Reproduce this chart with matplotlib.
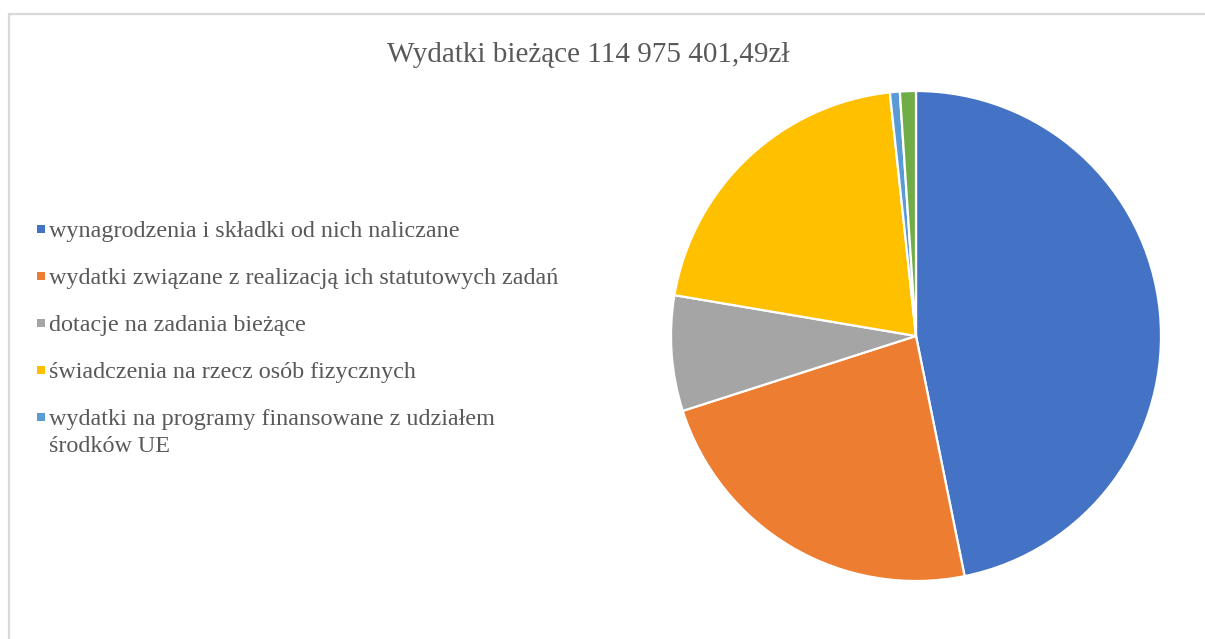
import matplotlib
matplotlib.use("Agg")
import matplotlib.pyplot as plt
from matplotlib.patches import Rectangle

# udział procentowy
categories = [
    "wynagrodzenia i składki od nich naliczane",
    "wydatki związane z realizacją ich statutowych zadań",
    "dotacje na zadania bieżące",
    "świadczenia na rzecz osób fizycznych",
    "wydatki na programy finansowane z udziałem\nśrodków UE",
    "obsługa długu",
]
shares = [46.75, 23.2, 7.6, 20.6, 0.65, 1.05]
colors = ["#4472C4", "#ED7D31", "#A5A5A5", "#FFC000", "#5B9BD5", "#70AD47"]
title = "Wydatki bieżące 114 975 401,49zł"
n_legend = 5  # ostatnia kategoria nie mieści się w legendzie

W, H = 1205, 639
fig = plt.figure(figsize=(W / 100, H / 100), dpi=100)
plt.rcParams["font.family"] = ["Liberation Serif", "DejaVu Serif"]

# ramka obszaru wykresu (widoczna tylko góra i lewa strona)
fig.patches.append(Rectangle((8.5 / W, -0.1), 1.5, (H - 14) / H + 0.1,
                             transform=fig.transFigure, fill=False,
                             edgecolor="#d9d9d9", linewidth=1.6))

cx, cy, r = 916, 336, 245
ax = fig.add_axes([(cx - r) / W, (H - cy - r) / H, 2 * r / W, 2 * r / H])
wedges, _ = ax.pie(shares, colors=colors, startangle=90, counterclock=False,
                   wedgeprops=dict(edgecolor="white", linewidth=1.6))
ax.set_xlim(-1, 1)
ax.set_ylim(-1, 1)
ax.set_aspect("equal")

fig.text(588 / W, 1 - 62 / H, title, ha="center", va="baseline",
         fontsize=21, color="#595959")

# legenda: kwadrat + opis, co 47 px
row0, step = 229, 47
for i in range(n_legend):
    y = row0 + i * step
    fig.patches.append(Rectangle((37 / W, 1 - (y + 4) / H), 8 / W, 8 / H,
                                 transform=fig.transFigure,
                                 facecolor=colors[i], edgecolor="none"))
    fig.text(49 / W, 1 - (y - 8) / H, categories[i], ha="left",
             va="top", fontsize=17.4, color="#595959",
             linespacing=1.38)

fig.savefig("out.png", dpi=100)
